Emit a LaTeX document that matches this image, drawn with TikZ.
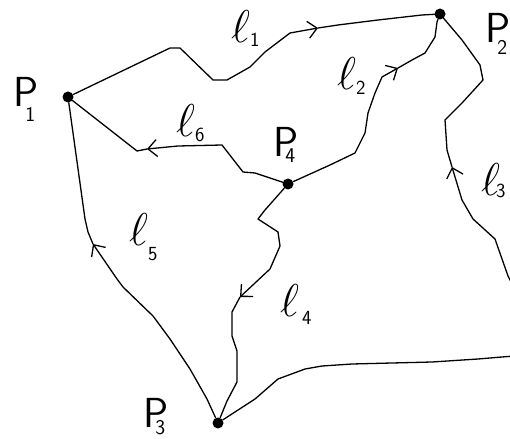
\RequirePackage{fix-cm}
\documentclass[tikz,border=0pt]{standalone}
\usetikzlibrary{arrows.meta}
\newcommand\plab[2]{\fontsize{42}{42}\sffamily P\kern-13pt\raisebox{-#2}{\fontsize{21}{21}\selectfont #1}}
\newcommand\llab[3]{\fontsize{46}{46}\selectfont$\ell$\kern#3\raisebox{-#2}{\fontsize{20}{20}\sffamily\selectfont #1}}
\begin{document}
\begin{tikzpicture}[x=1pt,y=-1pt,
  curve/.style={line width=1.3pt,line join=round,line cap=round},
  arr/.style={curve,-{Straight Barb[length=9pt,width=17pt,line width=1.3pt]}},
  pt/.style={circle,fill=black,inner sep=0pt,minimum size=11pt},
  lab/.style={anchor=base west,inner sep=0pt}]
\useasboundingbox (0,0) rectangle (510,438);
\fill[white] (0,0) rectangle (510,438);
% points
\node[pt] (P1) at (68,97) {};
\node[pt] (P2) at (440,14) {};
\node[pt] (P4) at (288,184) {};
\node[pt] (P3) at (218,423) {};
\coordinate (E3) at (514,288);
\coordinate (E7) at (514,356);
% l1
\draw[arr] (P1) -- (170,48) -- (180,48) -- (213,80) -- (227,80) -- (250,67) -- (265,52) -- (290,33) -- (318,28);
\draw[curve] (318,28) -- (338,25) -- (378,20) -- (422,15) -- (P2);
% l2
\draw[arr] (P4) -- (330,165) -- (355,153) -- (365,133) -- (368,113) -- (375,93) -- (382,77) -- (398,68);
\draw[curve] (398,68) -- (412,60) -- (425,53) -- (435,37) -- (437,22) -- (P2);
% l3
\draw[arr] (E3) -- (508,276) -- (495,239) -- (473,219) -- (462,200) -- (452,167);
\draw[curve] (452,167) -- (447,150) -- (445,120) -- (462,103) -- (483,80) -- (480,65) -- (462,40) -- (P2);
% l4
\draw[arr] (P4) -- (265,210) -- (258,219) -- (278,232) -- (280,246) -- (270,269) -- (255,283) -- (240,297);
\draw[curve] (240,297) -- (232,312) -- (232,336) -- (237,351) -- (237,382) -- (227,401) -- (P3);
% l5
\draw[arr] (P3) -- (207,399) -- (190,369) -- (170,339) -- (153,316) -- (123,287) -- (117,279) -- (93,244);
\draw[curve] (93,244) -- (88,232) -- (85,219) -- (P1);
% l6
\draw[arr] (P4) -- (255,173) -- (243,172) -- (222,145) -- (178,146) -- (147,149);
\draw[curve] (147,149) -- (137,151) -- (P1);
% bottom curve
\draw[curve] (P3) -- (255,399) -- (278,379) -- (305,369) -- (322,366) -- (352,364) -- (432,362) -- (478,359) -- (E7);
% labels
\node[lab] (LP1) at (13,107) {\plab{1}{15pt}};
\node[lab] (LP2) at (485,43) {\plab{2}{12pt}};
\node[lab] (LP4) at (273,157) {\plab{4}{6pt}};
\node[lab] (LP3) at (143,427) {\plab{3}{7pt}};
\node[lab] (L1) at (231,43) {\llab{1}{4pt}{0pt}};
\node[lab] (L2) at (337,90) {\llab{2}{5pt}{0pt}};
\node[lab] (L3) at (481,195) {\llab{3}{2pt}{-4pt}};
\node[lab] (L4) at (280,316) {\llab{4}{8pt}{3pt}};
\node[lab] (L5) at (129,245) {\llab{5}{15pt}{0pt}};
\node[lab] (L6) at (176,137) {\llab{6}{5pt}{0pt}};
\end{tikzpicture}
\end{document}
